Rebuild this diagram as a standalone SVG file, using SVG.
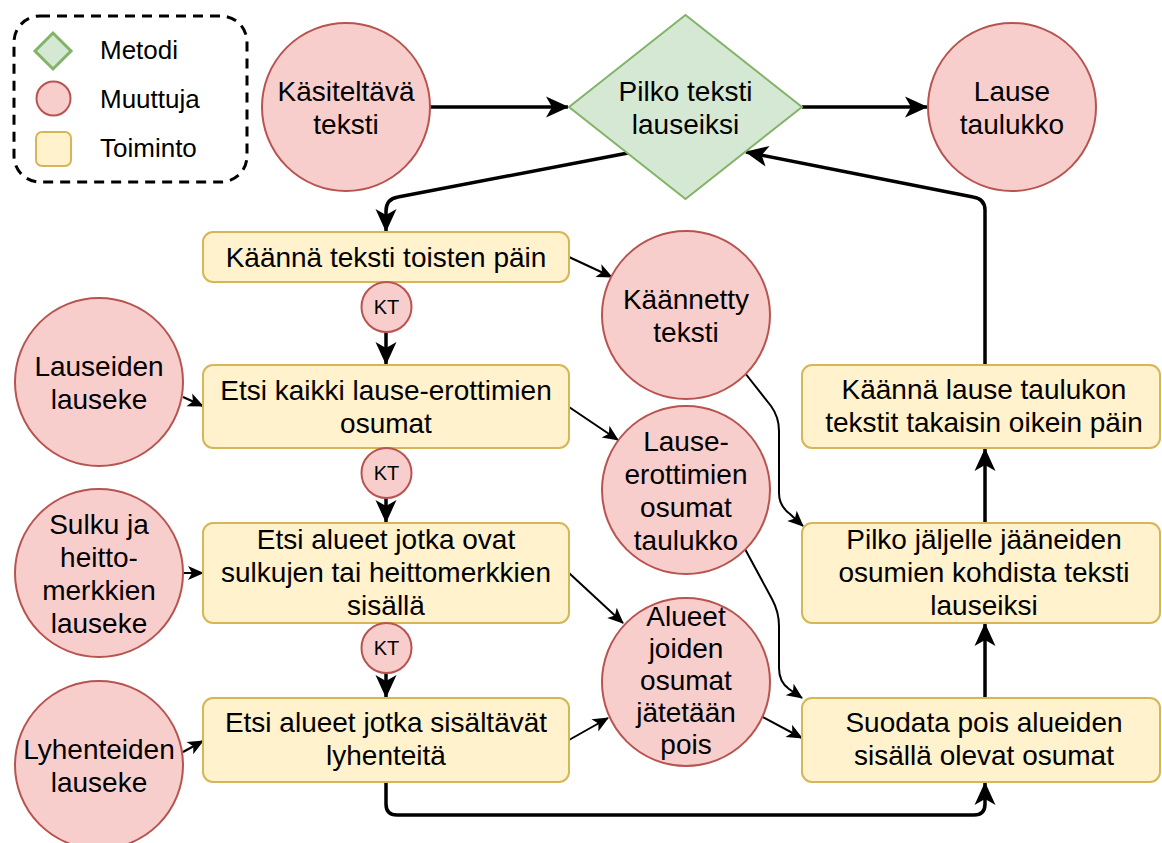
<svg xmlns="http://www.w3.org/2000/svg" width="1162" height="843" viewBox="0 0 1162 843">
  <style>
    text { font-family: "Liberation Sans", Arial, sans-serif; fill: #000; }
    .t { font-size: 28px; text-anchor: middle; }
    .kt { font-size: 20px; text-anchor: middle; }
    .lg { font-size: 26px; }
    .var { fill: #f8cecc; stroke: #b85450; stroke-width: 2; }
    .act { fill: #fff2cc; stroke: #d6b656; stroke-width: 2; }
    .met { fill: #d5e8d4; stroke: #82b366; stroke-width: 2; }
    .thick { fill: none; stroke: #000; stroke-width: 3.5; marker-end: url(#big); }
    .thin { fill: none; stroke: #000; stroke-width: 2; marker-end: url(#small); }
  </style>
  <defs>
    <marker id="big" markerUnits="userSpaceOnUse" markerWidth="26" markerHeight="26" viewBox="-24 -13 26 26" refX="0" refY="0" orient="auto">
      <path d="M1,0 L-22,-10.5 L-16,0 L-22,10.5 Z" fill="#000"/>
    </marker>
    <marker id="small" markerUnits="userSpaceOnUse" markerWidth="20" markerHeight="20" viewBox="-18 -10 20 20" refX="0" refY="0" orient="auto">
      <path d="M1,0 L-15,-7 L-11,0 L-15,7 Z" fill="#000"/>
    </marker>
  </defs>

  <!-- legend -->
  <g id="legend">
    <rect x="14" y="16" width="233" height="166" rx="26" fill="none" stroke="#000" stroke-width="3" stroke-dasharray="10 7"/>
    <polygon points="35,51 53,33 71,51 53,69" fill="#d5e8d4" stroke="#82b366" stroke-width="3"/>
    <circle cx="53.5" cy="98.5" r="17" class="var"/>
    <rect x="36" y="132" width="35" height="34" rx="6" class="act"/>
    <text class="lg" x="100" y="59">Metodi</text>
    <text class="lg" x="100" y="108">Muuttuja</text>
    <text class="lg" x="100" y="157">Toiminto</text>
  </g>

  <!-- connectors -->
  <g id="connectors">
    <path class="thick" d="M430,107 L568,107"/>
    <path class="thick" d="M802,107 L927,107"/>
    <path class="thick" d="M628,153 L398,197 Q386,199 386,211 L386,231"/>
    <path class="thick" d="M985,365 L985,210 Q985,199 973,197 L746,152"/>
    <path class="thick" d="M386,332 L386,364"/>
    <path class="thick" d="M386,498 L386,522"/>
    <path class="thick" d="M386,673 L386,697"/>
    <path class="thick" d="M386,782 L386,804 Q386,815 397,815 L974,815 Q985,815 985,804 L985,783"/>
    <path class="thick" d="M985,698 L985,624"/>
    <path class="thick" d="M985,523 L985,449"/>
    <path class="thin" d="M569,257 L612,277"/>
    <path class="thin" d="M569,407 L618,440"/>
    <path class="thin" d="M569,573 L623,623"/>
    <path class="thin" d="M569,740 L608,718"/>
    <path class="thin" d="M183,397 L203,406"/>
    <path class="thin" d="M183,573 L203,573"/>
    <path class="thin" d="M183,752 L203,741"/>
    <path class="thin" d="M761,716 L802,738"/>
    <path class="thin" d="M745,373 L771,406 Q779,417 779,431 L779,493 Q779,506 790,514 L803,526"/>
    <path class="thin" d="M745,549 L772,599 Q779,612 779,626 L779,668 Q779,682 789,689 L802,698"/>
  </g>

  <!-- top row -->
  <g id="kasiteltava-teksti">
    <circle cx="346" cy="107" r="84" class="var"/>
    <text class="t" x="346" y="101">Käsiteltävä</text>
    <text class="t" x="346" y="134">teksti</text>
  </g>
  <g id="pilko-teksti">
    <polygon points="569,107 685.5,15 802,107 685.5,199" class="met"/>
    <text class="t" x="685.5" y="101">Pilko teksti</text>
    <text class="t" x="685.5" y="134">lauseiksi</text>
  </g>
  <g id="lause-taulukko">
    <circle cx="1012" cy="107" r="84" class="var"/>
    <text class="t" x="1012" y="101">Lause</text>
    <text class="t" x="1012" y="134">taulukko</text>
  </g>

  <!-- left column: inputs -->
  <g id="lauseiden-lauseke">
    <circle cx="99" cy="382" r="84" class="var"/>
    <text class="t" x="99" y="376">Lauseiden</text>
    <text class="t" x="99" y="409">lauseke</text>
  </g>
  <g id="sulku-lauseke">
    <circle cx="99" cy="573" r="84" class="var"/>
    <text class="t" x="99" y="534">Sulku ja</text>
    <text class="t" x="99" y="567">heitto-</text>
    <text class="t" x="99" y="600">merkkien</text>
    <text class="t" x="99" y="633">lauseke</text>
  </g>
  <g id="lyhenteiden-lauseke">
    <circle cx="99" cy="765" r="84" class="var"/>
    <text class="t" x="99" y="759">Lyhenteiden</text>
    <text class="t" x="99" y="792">lauseke</text>
  </g>

  <!-- middle column: actions -->
  <g id="kaanna-teksti">
    <rect x="203" y="232" width="366" height="50" rx="10" class="act"/>
    <text class="t" x="386" y="267">Käännä teksti toisten päin</text>
  </g>
  <g id="kt-1">
    <circle cx="386.5" cy="307" r="25" class="var"/>
    <text class="kt" x="386.5" y="314">KT</text>
  </g>
  <g id="etsi-erottimet">
    <rect x="203" y="365" width="366" height="83" rx="10" class="act"/>
    <text class="t" x="386" y="400">Etsi kaikki lause-erottimien</text>
    <text class="t" x="386" y="433">osumat</text>
  </g>
  <g id="kt-2">
    <circle cx="386.5" cy="473" r="25" class="var"/>
    <text class="kt" x="386.5" y="480">KT</text>
  </g>
  <g id="etsi-sulut">
    <rect x="203" y="523" width="366" height="100" rx="10" class="act"/>
    <text class="t" x="386" y="549">Etsi alueet jotka ovat</text>
    <text class="t" x="386" y="582">sulkujen tai heittomerkkien</text>
    <text class="t" x="386" y="615">sisällä</text>
  </g>
  <g id="kt-3">
    <circle cx="386.5" cy="648" r="25" class="var"/>
    <text class="kt" x="386.5" y="655">KT</text>
  </g>
  <g id="etsi-lyhenteet">
    <rect x="203" y="698" width="366" height="84" rx="10" class="act"/>
    <text class="t" x="386" y="732">Etsi alueet jotka sisältävät</text>
    <text class="t" x="386" y="765">lyhenteitä</text>
  </g>

  <!-- middle column: intermediate values -->
  <g id="kaannetty-teksti">
    <circle cx="686" cy="315" r="84" class="var"/>
    <text class="t" x="686" y="309">Käännetty</text>
    <text class="t" x="686" y="342">teksti</text>
  </g>
  <g id="erottimien-osumat">
    <circle cx="686" cy="490" r="84" class="var"/>
    <text class="t" x="686" y="451">Lause-</text>
    <text class="t" x="686" y="484">erottimien</text>
    <text class="t" x="686" y="517">osumat</text>
    <text class="t" x="686" y="550">taulukko</text>
  </g>
  <g id="alueet">
    <circle cx="686" cy="682" r="84" class="var"/>
    <text class="t" x="686" y="626">Alueet</text>
    <text class="t" x="686" y="658">joiden</text>
    <text class="t" x="686" y="690">osumat</text>
    <text class="t" x="686" y="722">jätetään</text>
    <text class="t" x="686" y="754">pois</text>
  </g>

  <!-- right column: actions -->
  <g id="kaanna-takaisin">
    <rect x="802" y="365" width="358" height="83" rx="10" class="act"/>
    <text class="t" x="984" y="399">Käännä lause taulukon</text>
    <text class="t" x="984" y="432">tekstit takaisin oikein päin</text>
  </g>
  <g id="pilko-jaljelle">
    <rect x="802" y="523" width="358" height="100" rx="10" class="act"/>
    <text class="t" x="984" y="549">Pilko jäljelle jääneiden</text>
    <text class="t" x="984" y="582">osumien kohdista teksti</text>
    <text class="t" x="984" y="615">lauseiksi</text>
  </g>
  <g id="suodata">
    <rect x="802" y="698" width="358" height="84" rx="10" class="act"/>
    <text class="t" x="984" y="732">Suodata pois alueiden</text>
    <text class="t" x="984" y="765">sisällä olevat osumat</text>
  </g>
</svg>
